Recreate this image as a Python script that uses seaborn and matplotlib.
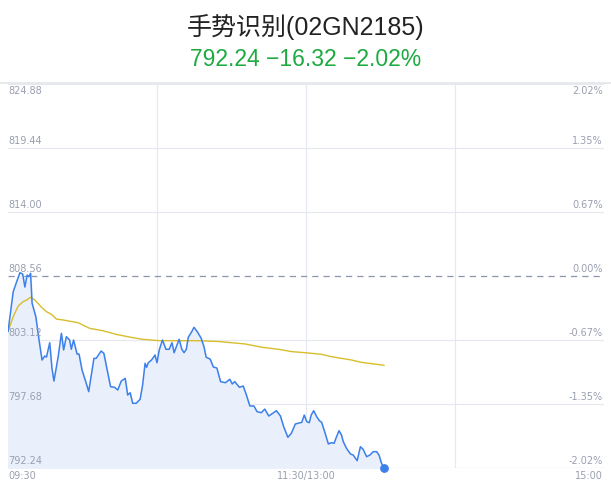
import numpy as np
import pandas as pd
import matplotlib
matplotlib.use("Agg")
import matplotlib.pyplot as plt
import seaborn as sns

# prices (minutes after 09:30)
blue_t = [0, 2.1, 3.5, 4.8, 5.9, 6.8, 7.7, 8.4, 9.1, 9.7, 11.2, 12.5, 13.7, 14.8, 15.5,
          16.8, 17.7, 18.5, 20.2, 21.5, 22.4, 23.5, 24.8, 25.5, 26.4, 27.8, 28.6, 29.8,
          31.3, 32.5, 34.6, 35.5, 37.5, 38.6, 39.8, 41.3, 42.9, 44.2, 45.6, 47.2, 48.2,
          49.2, 50.2, 51.6, 53.2, 54.2, 55.2, 55.8, 56.5, 57.8, 59.2, 60.0, 60.9, 62.2,
          63.6, 64.9, 66.0, 66.9, 68.9, 70.0, 70.9, 71.8, 72.6, 74.0, 74.9, 76.2, 77.8,
          78.9, 79.8, 81.4, 82.7, 84.1, 85.6, 87.6, 89.3, 90.3, 91.3, 93.2, 94.7, 96.0,
          97.4, 99.0, 100.3, 102.0, 103.4, 105.0, 106.6, 108.1, 109.7, 111.0, 112.7,
          114.1, 115.7, 117.7, 118.3, 119.3, 120.3, 121.3, 122.1, 123.1, 124.3, 125.4,
          126.3, 127.7, 129.0, 130.1, 131.3, 132.3, 133.3, 134.3, 135.0, 136.3, 137.9,
          139.0, 140.6, 141.9, 143.0, 144.4, 145.7, 147.1, 148.4, 149.4, 150.4, 151.5]
blue_p = [803.83, 807.23, 808.08, 808.84, 808.73, 807.62, 808.64, 808.50, 808.79, 806.24,
          805.10, 803.12, 801.42, 801.76, 801.67, 802.89, 800.71, 799.63, 801.70, 803.69,
          802.27, 803.40, 803.12, 802.33, 803.12, 801.93, 801.93, 800.57, 799.58, 798.73,
          801.56, 801.56, 802.18, 801.99, 800.71, 799.15, 799.10, 798.87, 799.63, 799.86,
          798.44, 798.64, 797.74, 797.74, 798.08, 799.29, 801.14, 800.80, 801.19, 801.42,
          801.84, 801.19, 802.27, 803.12, 802.33, 802.33, 802.89, 802.04, 803.18, 802.33,
          802.04, 802.33, 803.35, 803.83, 804.20, 803.83, 803.26, 802.55, 801.65, 801.50,
          800.82, 800.74, 799.58, 799.49, 799.78, 799.38, 799.58, 799.10, 799.21, 798.44,
          797.51, 797.51, 797.03, 796.94, 797.25, 796.66, 796.89, 797.11, 796.66, 795.75,
          794.85, 795.19, 795.98, 796.09, 796.12, 796.74, 796.18, 796.09, 796.74, 797.11,
          796.60, 796.26, 796.12, 795.19, 794.28, 794.39, 794.34, 794.90, 795.41, 795.04,
          794.48, 793.91, 793.43, 793.34, 792.86, 794.05, 793.83, 793.20, 793.34, 793.63,
          793.63, 793.34, 792.64, 792.24]

avg_t = [0, 2.1, 4.1, 6.1, 7.5, 9.1, 10.8, 13.5, 15.5, 17.5, 19.5, 22.2, 28.2, 32.9, 38.2,
         43.5, 50.2, 54.2, 60.9, 76.9, 84.9, 95.6, 102.3, 109.0, 114.3, 119.7, 126.3,
         130.3, 138.3, 142.3, 151.5]
avg_p = [803.83, 805.10, 806.01, 806.38, 806.52, 806.75, 806.52, 805.90, 805.53, 805.30,
         804.90, 804.82, 804.59, 804.11, 803.91, 803.60, 803.32, 803.18, 803.06, 803.06,
         802.99, 802.78, 802.50, 802.33, 802.13, 802.04, 801.90, 801.70, 801.42, 801.22,
         800.97]

price_ticks = [824.88, 819.44, 814.00, 808.56, 803.12, 797.68, 792.24]
pct_labels = ["2.02%", "1.35%", "0.67%", "0.00%", "-0.67%", "-1.35%", "-2.02%"]
prev_close = 808.56
time_labels = ["09:30", "11:30/13:00", "15:00"]

title = "手势识别(02GN2185)"
subtitle = "792.24 \u221216.32 \u22122.02%"

sns.set_style("white")
plt.rcParams['font.family'] = ['Noto Sans CJK SC', 'DejaVu Sans']

df = pd.DataFrame({"t": blue_t, "price": blue_p})
avg = pd.DataFrame({"t": avg_t, "price": avg_p})

fig = plt.figure(figsize=(6.11, 4.92), dpi=100)
ax = fig.add_axes([8 / 611, 24 / 492, 596 / 611, 384 / 492])

grid_c = "#e6e8ef"
lab_c = "#9a9fb0"
for p in price_ticks:
    if p != prev_close:
        ax.axhline(p, color=grid_c, lw=0.8, zorder=0)
for m in [60, 120, 180]:
    ax.axvline(m, color=grid_c, lw=0.8, zorder=0)
ax.axhline(prev_close, color="#8d95ad", lw=0.9, ls=(0, (5, 4)), zorder=1)

ax.fill_between(df["t"], df["price"], price_ticks[-1], color="#e9f0fc", zorder=1)
sns.lineplot(data=df, x="t", y="price", ax=ax, color="#3d80ea", lw=1.1, zorder=3)
sns.lineplot(data=avg, x="t", y="price", ax=ax, color="#d8bd2c", lw=1.0, zorder=2)
ax.scatter([blue_t[-1]], [blue_p[-1]], s=28, color="#3d80ea", zorder=4, clip_on=False)

ax.set_xlim(0, 240)
ax.set_ylim(price_ticks[-1], price_ticks[0])
ax.set_xticks([])
ax.set_yticks([])
ax.set_xlabel("")
ax.set_ylabel("")
for s in ax.spines.values():
    s.set_visible(False)

# price / percent labels inside the plot
for i, (p, pl) in enumerate(zip(price_ticks, pct_labels)):
    va = "top" if i == 0 else "bottom"
    off = -1.5 if i == 0 else 1.5
    ax.annotate(f"{p:.2f}", (0, p), xytext=(0, off), textcoords="offset points",
                ha="left", va=va, fontsize=7, color=lab_c, family="DejaVu Sans")
    ax.annotate(pl, (240, p), xytext=(-1, off), textcoords="offset points",
                ha="right", va=va, fontsize=7, color=lab_c, family="DejaVu Sans")

for lbl, m, ha in zip(time_labels, [0, 120, 240], ["left", "center", "right"]):
    ax.annotate(lbl, (m, price_ticks[-1]), xytext=(0 if ha != "right" else -1, -2),
                textcoords="offset points", ha=ha, va="top", fontsize=7,
                color=lab_c, family="DejaVu Sans")

# frame lines
fig.add_artist(plt.Line2D([0, 1], [1 - 83 / 492] * 2, color="#e3e5ea", lw=1.2))
ax.axhline(price_ticks[-1], color=grid_c, lw=0.8, zorder=0)

fig.text(0.5, 1 - 27 / 492, title, ha="center", va="center", fontsize=18,
         color="#222222", family=['Liberation Sans', 'Noto Sans CJK SC'])
fig.text(0.5, 1 - 60 / 492, subtitle, ha="center", va="center", fontsize=16.5,
         color="#1daa40", family=['Liberation Sans', 'DejaVu Sans'])

fig.savefig("out.png", dpi=100)
